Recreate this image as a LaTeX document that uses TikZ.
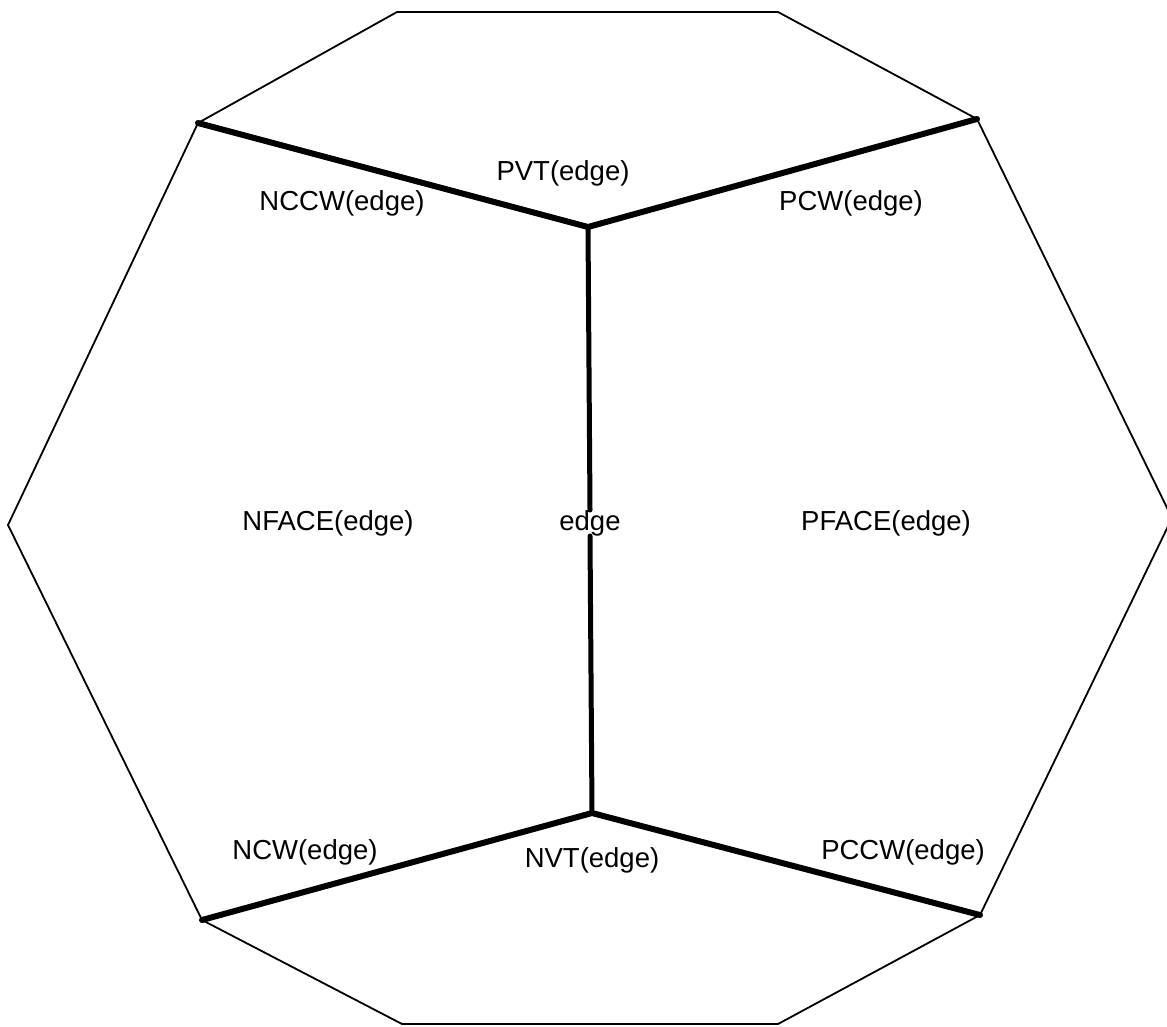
\documentclass[tikz,border=0pt]{standalone}
\usepackage{fontspec}
\setmainfont{Liberation Sans}
\begin{document}
\begin{tikzpicture}[x=1pt,y=-1pt,
  thinline/.style={line width=1.8pt,line join=miter},
  thickline/.style={line width=6pt,line cap=round,line join=round},
  lbl/.style={font=\fontsize{27.5}{32}\selectfont,inner sep=0pt}]
\useasboundingbox (0,0) rectangle (1167,1026);
\fill[white] (0,0) rectangle (1167,1026);
% outer polygon vertices
\coordinate (v1) at (397,12);
\coordinate (v2) at (778,12);
\coordinate (v3) at (977,119);
\coordinate (v4) at (1172,518);
\coordinate (v5) at (980,915);
\coordinate (v6) at (778,1024);
\coordinate (v7) at (402,1024);
\coordinate (v8) at (202,920);
\coordinate (v9) at (8,525);
\coordinate (v10) at (198,123);
% inner vertices
\coordinate (pt) at (588,227);
\coordinate (pb) at (592,813);
\draw[thinline] (v1) -- (v2) -- (v3) -- (v4) -- (v5) -- (v6) -- (v7) -- (v8) -- (v9) -- (v10) -- cycle;
\draw[thickline] (v10) -- (pt) -- (v3);
\draw[thickline] (v8) -- (pb) -- (v5);
\node[lbl] (edge) at (590,523) {edge};
\draw[thickline,line width=5pt] (pt) -- (edge.north);
\draw[thickline,line width=5pt] (edge.south) -- (pb);
\node[lbl] (pvt) at (563,173) {PVT(edge)};
\node[lbl] (nccw) at (342,203) {NCCW(edge)};
\node[lbl] (pcw) at (851,203) {PCW(edge)};
\node[lbl] (nface) at (328,523) {NFACE(edge)};
\node[lbl] (pface) at (886,523) {PFACE(edge)};
\node[lbl] (ncw) at (305,852) {NCW(edge)};
\node[lbl] (nvt) at (592,860) {NVT(edge)};
\node[lbl] (pccw) at (903,852) {PCCW(edge)};
\end{tikzpicture}
\end{document}
